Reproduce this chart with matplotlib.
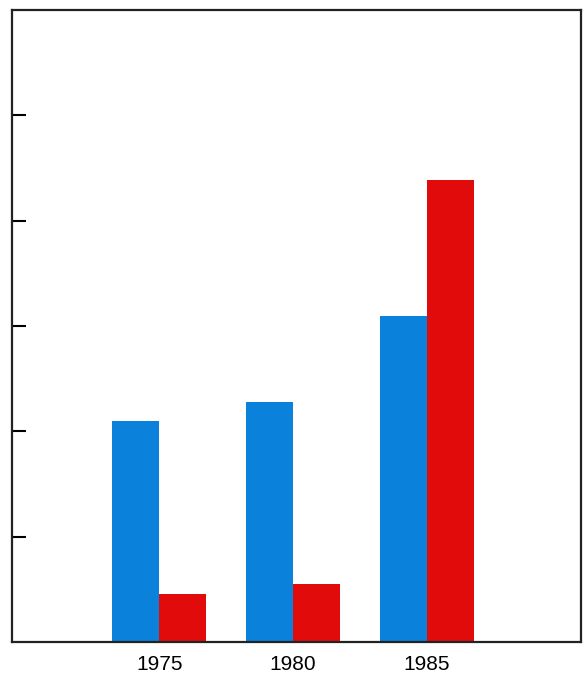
import matplotlib.pyplot as plt
import numpy as np

years = ['1975', '1980', '1985']
blue_vals = [2.1, 2.28, 3.1]
red_vals = [0.46, 0.55, 4.39]

plt.rcParams['font.family'] = ['Liberation Sans Narrow', 'Liberation Sans', 'DejaVu Sans']

fig = plt.figure(figsize=(5.85, 6.73), dpi=100)
ax = fig.add_axes([0.0205, 0.046, 0.9725, 0.939])

x = np.arange(len(years))
w = 0.35
ax.bar(x - w / 2, blue_vals, w, color='#0a82dc')
ax.bar(x + w / 2, red_vals, w, color='#e20b0b')

ax.set_xlim(-1.1, 3.15)
ax.set_ylim(0, 6)
ax.set_xticks(x)
ax.set_xticklabels(years, fontsize=15)
ax.tick_params(axis='x', length=0, pad=9)
ax.set_yticks([1, 2, 3, 4, 5])
ax.set_yticklabels([])
ax.tick_params(axis='y', direction='in', length=10, width=1.5)
for s in ax.spines.values():
    s.set_linewidth(1.6)
    s.set_color('#222222')

fig.savefig('out.png', dpi=100)
